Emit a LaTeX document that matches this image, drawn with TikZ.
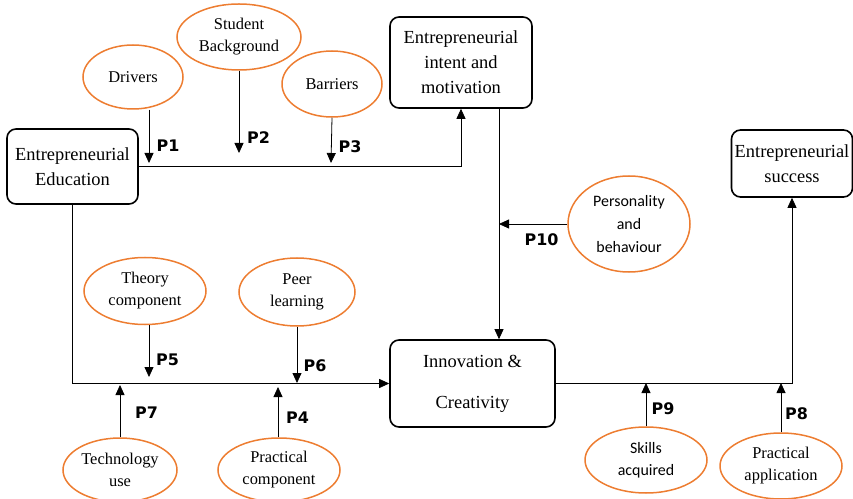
\documentclass[tikz,border=0pt]{standalone}
\usepackage{fontspec}
\setmainfont{Liberation Serif}
\newfontfamily\calib{Carlito}
\newfontfamily\plabfont{DejaVu Sans}
\usetikzlibrary{shapes.geometric, arrows.meta}
\definecolor{ovalorange}{RGB}{237,125,49}

\begin{document}
\begin{tikzpicture}[x=1bp, y=-1bp,
    box/.style={draw, rounded corners=9bp, line width=1.6bp, align=center, inner sep=0pt, font=\fontsize{18.5}{25}\selectfont},
    oval/.style={ellipse, draw=ovalorange, line width=1.5bp, align=center, inner sep=0pt, font=\fontsize{16.5}{22}\selectfont},
    plab/.style={font=\plabfont\bfseries\fontsize{16}{18}\selectfont},
    arr/.style={-{Triangle[length=10bp,width=9bp]}, line width=0.8bp}]
    \useasboundingbox (0,0) rectangle (853,499);

    % Boxes
    \node[box, minimum width=131bp, minimum height=75bp] (edu) at (72.5,166.5) {Entrepreneurial\\Education};
    \node[box, minimum width=142bp, minimum height=91bp] (intent) at (461,62.5) {Entrepreneurial\\intent and\\motivation};
    \node[box, minimum width=165bp, minimum height=87bp] (innov) at (472.5,383.5) {Innovation \&\\[16bp]Creativity};
    \node[box, minimum width=121bp, minimum height=67bp] (success) at (792,163.5) {Entrepreneurial\\success};

    % Top ovals
    \node[oval, minimum width=100bp, minimum height=64bp] (drivers) at (133,77) {Drivers};
    \node[oval, minimum width=124bp, minimum height=66bp] (backgr) at (239,37) {Student\\Background};
    \node[oval, minimum width=100bp, minimum height=66bp] (barriers) at (332,84) {Barriers};
    \node[oval, minimum width=122bp, minimum height=96bp, font=\calib\fontsize{16}{23}\selectfont] (person) at (629,224) {Personality\\and\\behaviour};

    % Bottom ovals
    \node[oval, minimum width=122bp, minimum height=67bp] (theory) at (145,291) {Theory\\component};
    \node[oval, minimum width=116bp, minimum height=68bp] (peer) at (297,292) {Peer\\learning};
    \node[oval, minimum width=114bp, minimum height=64bp] (tech) at (120,470) {Technology\\use};
    \node[oval, minimum width=122bp, minimum height=64bp] (praccomp) at (279,470) {Practical\\component};
    \node[oval, minimum width=122bp, minimum height=66bp, font=\calib\fontsize{16}{22}\selectfont] (skills) at (646,460) {Skills\\acquired};
    \node[oval, minimum width=122bp, minimum height=66bp] (pracapp) at (781,466) {Practical\\application};

    % Arrow ends
    \coordinate (e1) at (149,163);
    \coordinate (e2) at (239,153);
    \coordinate (e3) at (331,163);
    \coordinate (e10) at (499,224);
    \coordinate (e5) at (149,377);
    \coordinate (e6) at (297,383);
    \coordinate (e7) at (120,385);
    \coordinate (e4) at (278,387);
    \coordinate (e9) at (646,383);
    \coordinate (e8) at (781,383);
    \coordinate (vline) at (499,0);

    % Main paths
    \draw[arr] (edu.east) -| (intent.south);
    \draw[arr] (edu.south) |- (innov.west);
    \draw[arr] (intent.south -| vline) -- (innov.north -| vline);
    \draw[arr] (innov.east) -| (success.south);

    % Influences
    \draw[arr] (drivers.south -| e1) -- (e1);
    \draw[arr] (backgr.south) -- (e2);
    \draw[arr] (barriers.south) -- (e3);
    \draw[arr] (person.west) -- (e10);
    \draw[arr] (theory.south -| e5) -- (e5);
    \draw[arr] (peer.south) -- (e6);
    \draw[arr] (tech.north) -- (e7);
    \draw[arr] (praccomp.north -| e4) -- (e4);
    \draw[arr] (skills.north) -- (e9);
    \draw[arr] (pracapp.north) -- (e8);

    % Labels
    \node[plab] (p1lab) at (168,146) {P1};
    \node[plab] (p2lab) at (258.5,137.5) {P2};
    \node[plab] (p3lab) at (350,147) {P3};
    \node[plab] (p10lab) at (541.5,239.5) {P10};
    \node[plab] (p5lab) at (167.5,360) {P5};
    \node[plab] (p6lab) at (315,366) {P6};
    \node[plab] (p7lab) at (146.5,413) {P7};
    \node[plab] (p4lab) at (297.5,417.5) {P4};
    \node[plab] (p9lab) at (663,409) {P9};
    \node[plab] (p8lab) at (796.5,414) {P8};
\end{tikzpicture}
\end{document}
